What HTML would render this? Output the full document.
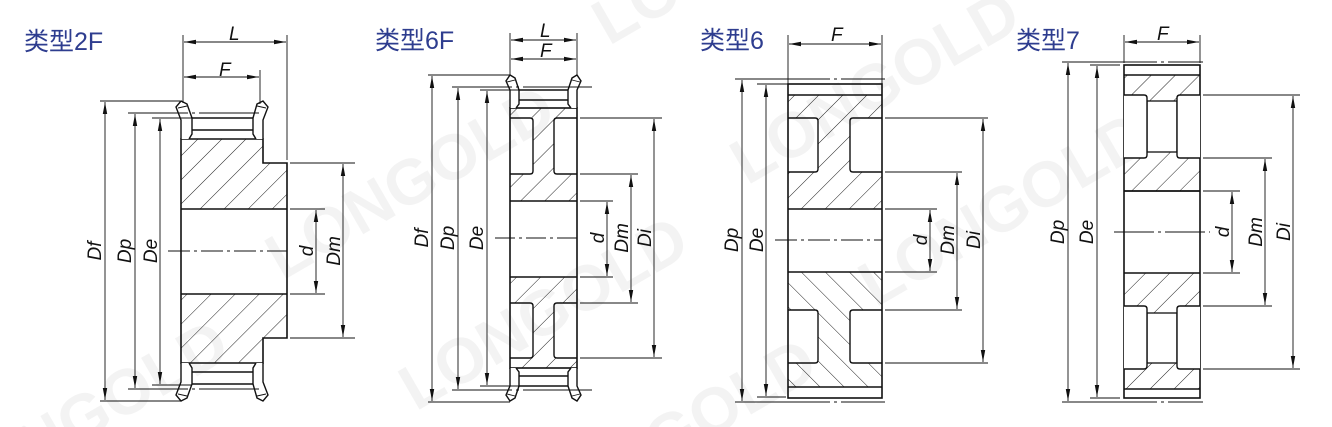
<!DOCTYPE html>
<html><head><meta charset="utf-8"><style>
html,body{margin:0;padding:0;background:#fff;width:1332px;height:427px;overflow:hidden}
svg{display:block}
.t{font-family:"Liberation Sans","Noto Sans CJK SC",sans-serif;font-size:25px;fill:#2e3d8f}
.l{font-family:"Liberation Sans",sans-serif;font-style:italic;font-size:19px;fill:#111}
.wm{font-family:"Liberation Sans",sans-serif;font-weight:bold;font-size:64px;fill:#000;opacity:0.045}
</style></head><body>
<svg width="1332" height="427" viewBox="0 0 1332 427" xmlns="http://www.w3.org/2000/svg" style="overflow:hidden">
<defs>
<clipPath id="cp"><rect x="0" y="0" width="1332" height="427"/></clipPath>
<pattern id="h" width="17" height="17" patternUnits="userSpaceOnUse" patternTransform="rotate(45)">
<line x1="0" y1="0" x2="0" y2="17" stroke="#222" stroke-width="1"/></pattern>
<pattern id="h2" width="17" height="17" patternUnits="userSpaceOnUse" patternTransform="rotate(-45)">
<line x1="0" y1="0" x2="0" y2="17" stroke="#222" stroke-width="1"/></pattern>
<marker id="a" viewBox="0 0 12 6" refX="12" refY="3" markerWidth="12" markerHeight="6" orient="auto-start-reverse" markerUnits="userSpaceOnUse">
<path d="M0,0.8 L12,3 L0,5.2 Z" fill="#111"/></marker>
</defs>

<g clip-path="url(#cp)">
<g transform="rotate(-30 666 213)">
<text class="wm" x="-100" y="120">LONGOLD</text><text class="wm" x="300" y="80">LONGOLD</text><text class="wm" x="700" y="40">LONGOLD</text><text class="wm" x="1100" y="20">LONGOLD</text>
<text class="wm" x="-50" y="300">LONGOLD</text><text class="wm" x="350" y="260">LONGOLD</text><text class="wm" x="750" y="230">LONGOLD</text><text class="wm" x="1150" y="200">LONGOLD</text>
<text class="wm" x="0" y="460">LONGOLD</text><text class="wm" x="400" y="430">LONGOLD</text><text class="wm" x="800" y="400">LONGOLD</text>
</g>
</g>

<g stroke="#111" fill="none" stroke-width="0.9">
<!-- ========== 2F ========== -->
<path d="M181,139 H263 V163 H287 V209 H181 Z" fill="url(#h)" stroke="none"/>
<path d="M181,294 H287 V338 H263 V363 H181 Z" fill="url(#h)" stroke="none"/>
<path d="M181,139 H263 V163 H287 V338 H263 V363 H181 Z" stroke-width="1.6"/>
<line x1="181" y1="209" x2="287" y2="209" stroke-width="1.6"/>
<line x1="181" y1="294" x2="287" y2="294" stroke-width="1.6"/>
<g id="fl2">
<path d="M181,139 L181,120 L176,107 L181,101 L187,104 L192,118 L192,134 L189,139" fill="#fff" stroke-width="1.4"/>
<line x1="178" y1="108" x2="187" y2="106"/>
<path d="M263,139 L263,120 L268,107 L263,101 L257,104 L253,118 L253,134 L256,139" fill="#fff" stroke-width="1.4"/>
<line x1="266" y1="108" x2="257" y2="106"/>
<line x1="192" y1="118" x2="253" y2="118" stroke-width="1.4"/>
<line x1="192" y1="130" x2="253" y2="130" stroke-width="1.4"/>
</g>
<use href="#fl2" transform="translate(0,502) scale(1,-1)"/>
<line x1="168" y1="251" x2="287" y2="251" stroke-dasharray="22,4,3,4"/>
<line x1="183" y1="35" x2="183" y2="103"/><line x1="287" y1="35" x2="287" y2="160"/>
<line x1="260" y1="70" x2="260" y2="104"/>
<line x1="184" y1="42" x2="286" y2="42" marker-start="url(#a)" marker-end="url(#a)"/>
<line x1="184" y1="77" x2="259" y2="77" marker-start="url(#a)" marker-end="url(#a)"/>
<line x1="100" y1="101" x2="180" y2="101"/><line x1="100" y1="401" x2="182" y2="401"/>
<line x1="128" y1="113" x2="280" y2="113" stroke-dasharray="60,4,3,4,60"/><line x1="128" y1="389" x2="280" y2="389" stroke-dasharray="60,4,3,4,60"/>
<line x1="152" y1="118" x2="192" y2="118"/><line x1="152" y1="385" x2="192" y2="385"/>
<line x1="105" y1="102" x2="105" y2="400" marker-start="url(#a)" marker-end="url(#a)"/>
<line x1="135" y1="114" x2="135" y2="388" marker-start="url(#a)" marker-end="url(#a)"/>
<line x1="160" y1="119" x2="160" y2="384" marker-start="url(#a)" marker-end="url(#a)"/>
<line x1="290" y1="209" x2="325" y2="209"/><line x1="290" y1="294" x2="325" y2="294"/>
<line x1="290" y1="163" x2="355" y2="163"/><line x1="290" y1="338" x2="355" y2="338"/>
<line x1="316" y1="210" x2="316" y2="293" marker-start="url(#a)" marker-end="url(#a)"/>
<line x1="343" y1="164" x2="343" y2="337" marker-start="url(#a)" marker-end="url(#a)"/>

<!-- ========== 6F ========== -->
<path d="M510,108 H577 V118 H554 V174 H577 V201 H510 V174 H533 V118 H510 Z" fill="url(#h)" stroke="none"/>
<path d="M510,368 H577 V358 H554 V303 H577 V277 H510 V303 H533 V358 H510 Z" fill="url(#h)" stroke="none"/>
<rect x="510" y="108" width="67" height="260" stroke-width="1.6"/>
<path d="M510,118 H530 Q533,118 533,121 V171 Q533,174 530,174 H510" stroke-width="1.4"/>
<path d="M577,118 H557 Q554,118 554,121 V171 Q554,174 557,174 H577" stroke-width="1.4"/>
<path d="M510,303 H530 Q533,303 533,306 V355 Q533,358 530,358 H510" stroke-width="1.4"/>
<path d="M577,303 H557 Q554,303 554,306 V355 Q554,358 557,358 H577" stroke-width="1.4"/>
<line x1="510" y1="201" x2="577" y2="201" stroke-width="1.6"/>
<line x1="510" y1="277" x2="577" y2="277" stroke-width="1.6"/>
<g id="fl6">
<path d="M510,108 L510,90 L506,81 L510,75 L515,78 L519,90 L519,104 L516,108" fill="#fff" stroke-width="1.4"/>
<line x1="507" y1="82" x2="515" y2="80"/>
<path d="M577,108 L577,90 L581,81 L577,75 L572,78 L568,90 L568,104 L571,108" fill="#fff" stroke-width="1.4"/>
<line x1="580" y1="82" x2="572" y2="80"/>
<line x1="519" y1="90" x2="568" y2="90" stroke-width="1.4"/>
<line x1="519" y1="100" x2="568" y2="100" stroke-width="1.4"/>
</g>
<use href="#fl6" transform="translate(0,476) scale(1,-1)"/>
<line x1="495" y1="238" x2="577" y2="238" stroke-dasharray="20,4,3,4"/>
<line x1="510" y1="33" x2="510" y2="76"/><line x1="577" y1="33" x2="577" y2="76"/>
<line x1="511" y1="40" x2="576" y2="40" marker-start="url(#a)" marker-end="url(#a)"/>
<line x1="511" y1="59" x2="576" y2="59" marker-start="url(#a)" marker-end="url(#a)"/>
<line x1="428" y1="75" x2="510" y2="75"/><line x1="428" y1="402" x2="510" y2="402"/>
<line x1="452" y1="87" x2="592" y2="87" stroke-dasharray="60,4,3,4,80"/><line x1="452" y1="390" x2="592" y2="390" stroke-dasharray="60,4,3,4,80"/>
<line x1="480" y1="90" x2="520" y2="90"/><line x1="480" y1="386" x2="520" y2="386"/>
<line x1="432" y1="76" x2="432" y2="401" marker-start="url(#a)" marker-end="url(#a)"/>
<line x1="458" y1="88" x2="458" y2="389" marker-start="url(#a)" marker-end="url(#a)"/>
<line x1="487" y1="91" x2="487" y2="385" marker-start="url(#a)" marker-end="url(#a)"/>
<line x1="580" y1="201" x2="613" y2="201"/><line x1="580" y1="277" x2="613" y2="277"/>
<line x1="580" y1="174" x2="638" y2="174"/><line x1="580" y1="303" x2="638" y2="303"/>
<line x1="580" y1="118" x2="662" y2="118"/><line x1="580" y1="358" x2="662" y2="358"/>
<line x1="607" y1="202" x2="607" y2="276" marker-start="url(#a)" marker-end="url(#a)"/>
<line x1="631" y1="175" x2="631" y2="302" marker-start="url(#a)" marker-end="url(#a)"/>
<line x1="654" y1="119" x2="654" y2="357" marker-start="url(#a)" marker-end="url(#a)"/>

<!-- ========== 6 ========== -->
<path d="M788,95 H882 V118 H850 V172 H882 V209 H788 V172 H818 V118 H788 Z" fill="url(#h)" stroke="none"/>
<path d="M788,387 H882 V363 H850 V310 H882 V272 H788 V310 H818 V363 H788 Z" fill="url(#h2)" stroke="none"/>
<rect x="788" y="84" width="94" height="314" stroke-width="1.6"/>
<line x1="788" y1="95" x2="882" y2="95" stroke-width="1.4"/>
<line x1="788" y1="387" x2="882" y2="387" stroke-width="1.4"/>
<path d="M788,118 H815 Q818,118 818,121 V169 Q818,172 815,172 H788" stroke-width="1.4"/>
<path d="M882,118 H853 Q850,118 850,121 V169 Q850,172 853,172 H882" stroke-width="1.4"/>
<path d="M788,310 H815 Q818,310 818,313 V360 Q818,363 815,363 H788" stroke-width="1.4"/>
<path d="M882,310 H853 Q850,310 850,313 V360 Q850,363 853,363 H882" stroke-width="1.4"/>
<line x1="788" y1="209" x2="882" y2="209" stroke-width="1.6"/>
<line x1="788" y1="272" x2="882" y2="272" stroke-width="1.6"/>
<line x1="775" y1="240" x2="882" y2="240" stroke-dasharray="22,4,3,4"/>
<line x1="788" y1="35" x2="788" y2="84"/><line x1="882" y1="35" x2="882" y2="84"/>
<line x1="789" y1="44" x2="881" y2="44" marker-start="url(#a)" marker-end="url(#a)"/>
<line x1="735" y1="79" x2="885" y2="79" stroke-dasharray="95,4,3,4,60"/><line x1="735" y1="402" x2="885" y2="402" stroke-dasharray="95,4,3,4,60"/>
<line x1="757" y1="84" x2="788" y2="84"/><line x1="757" y1="397" x2="786" y2="397"/>
<line x1="742" y1="80" x2="742" y2="401" marker-start="url(#a)" marker-end="url(#a)"/>
<line x1="766" y1="85" x2="766" y2="396" marker-start="url(#a)" marker-end="url(#a)"/>
<line x1="885" y1="209" x2="937" y2="209"/><line x1="885" y1="272" x2="937" y2="272"/>
<line x1="885" y1="172" x2="962" y2="172"/><line x1="885" y1="310" x2="962" y2="310"/>
<line x1="885" y1="118" x2="988" y2="118"/><line x1="885" y1="363" x2="988" y2="363"/>
<line x1="930" y1="210" x2="930" y2="271" marker-start="url(#a)" marker-end="url(#a)"/>
<line x1="957" y1="173" x2="957" y2="309" marker-start="url(#a)" marker-end="url(#a)"/>
<line x1="983" y1="119" x2="983" y2="362" marker-start="url(#a)" marker-end="url(#a)"/>

<!-- ========== 7 ========== -->
<path d="M1124,75 H1200 V95 H1177 V158 H1200 V191 H1124 V158 H1147 V95 H1124 Z" fill="url(#h)" stroke="none"/>
<path d="M1124,389 H1200 V369 H1177 V306 H1200 V273 H1124 V306 H1147 V369 H1124 Z" fill="url(#h)" stroke="none"/>
<rect x="1147" y="101" width="30" height="51" fill="#fff" stroke-width="1.3"/>
<rect x="1147" y="313" width="30" height="50" fill="#fff" stroke-width="1.3"/>
<rect x="1124" y="65" width="76" height="333" stroke-width="1.6"/>
<line x1="1124" y1="75" x2="1200" y2="75" stroke-width="1.4"/>
<line x1="1124" y1="389" x2="1200" y2="389" stroke-width="1.4"/>
<path d="M1124,95 H1144 Q1147,95 1147,98 V155 Q1147,158 1144,158 H1124" fill="#fff" stroke-width="1.4"/>
<path d="M1200,95 H1180 Q1177,95 1177,98 V155 Q1177,158 1180,158 H1200" fill="#fff" stroke-width="1.4"/>
<path d="M1124,306 H1144 Q1147,306 1147,309 V366 Q1147,369 1144,369 H1124" fill="#fff" stroke-width="1.4"/>
<path d="M1200,306 H1180 Q1177,306 1177,309 V366 Q1177,369 1180,369 H1200" fill="#fff" stroke-width="1.4"/>
<line x1="1124" y1="191" x2="1200" y2="191" stroke-width="1.8"/>
<line x1="1124" y1="273" x2="1200" y2="273" stroke-width="1.6"/>
<line x1="1114" y1="232" x2="1210" y2="232" stroke-dasharray="40,4,3,4"/>
<line x1="1124" y1="35" x2="1124" y2="63"/><line x1="1200" y1="35" x2="1200" y2="63"/>
<line x1="1125" y1="42" x2="1199" y2="42" marker-start="url(#a)" marker-end="url(#a)"/>
<line x1="1062" y1="62" x2="1203" y2="62" stroke-dasharray="95,4,3,4,60"/><line x1="1062" y1="402" x2="1203" y2="402" stroke-dasharray="95,4,3,4,60"/>
<line x1="1090" y1="65" x2="1120" y2="65"/><line x1="1090" y1="398" x2="1120" y2="398"/>
<line x1="1068" y1="63" x2="1068" y2="401" marker-start="url(#a)" marker-end="url(#a)"/>
<line x1="1097" y1="66" x2="1097" y2="397" marker-start="url(#a)" marker-end="url(#a)"/>
<line x1="1203" y1="191" x2="1240" y2="191"/><line x1="1203" y1="273" x2="1240" y2="273"/>
<line x1="1203" y1="158" x2="1272" y2="158"/><line x1="1203" y1="306" x2="1272" y2="306"/>
<line x1="1203" y1="95" x2="1300" y2="95"/><line x1="1203" y1="369" x2="1300" y2="369"/>
<line x1="1232" y1="192" x2="1232" y2="272" marker-start="url(#a)" marker-end="url(#a)"/>
<line x1="1265" y1="159" x2="1265" y2="305" marker-start="url(#a)" marker-end="url(#a)"/>
<line x1="1293" y1="96" x2="1293" y2="368" marker-start="url(#a)" marker-end="url(#a)"/>
</g>

<text class="t" x="24" y="50">类型2F</text>
<text class="t" x="375" y="49">类型6F</text>
<text class="t" x="700" y="49">类型6</text>
<text class="t" x="1016" y="49">类型7</text>

<text class="l" x="229" y="40">L</text><text class="l" x="219" y="76">F</text>
<text class="l" x="540" y="37">L</text><text class="l" x="540" y="57">F</text>
<text class="l" x="831" y="41">F</text>
<text class="l" x="1157" y="40">F</text>
<g text-anchor="middle">
<text class="l" transform="translate(101,251) rotate(-90)">Df</text>
<text class="l" transform="translate(131,251) rotate(-90)">Dp</text>
<text class="l" transform="translate(157,251) rotate(-90)">De</text>
<text class="l" transform="translate(313,251) rotate(-90)">d</text>
<text class="l" transform="translate(340,251) rotate(-90)">Dm</text>

<text class="l" transform="translate(428,238) rotate(-90)">Df</text>
<text class="l" transform="translate(454,238) rotate(-90)">Dp</text>
<text class="l" transform="translate(483,238) rotate(-90)">De</text>
<text class="l" transform="translate(604,238) rotate(-90)">d</text>
<text class="l" transform="translate(628,238) rotate(-90)">Dm</text>
<text class="l" transform="translate(651,238) rotate(-90)">Di</text>

<text class="l" transform="translate(738,240) rotate(-90)">Dp</text>
<text class="l" transform="translate(763,240) rotate(-90)">De</text>
<text class="l" transform="translate(927,240) rotate(-90)">d</text>
<text class="l" transform="translate(954,240) rotate(-90)">Dm</text>
<text class="l" transform="translate(980,240) rotate(-90)">Di</text>

<text class="l" transform="translate(1064,232) rotate(-90)">Dp</text>
<text class="l" transform="translate(1093,232) rotate(-90)">De</text>
<text class="l" transform="translate(1229,232) rotate(-90)">d</text>
<text class="l" transform="translate(1262,232) rotate(-90)">Dm</text>
<text class="l" transform="translate(1290,232) rotate(-90)">Di</text>
</g>
</svg>
</body></html>
